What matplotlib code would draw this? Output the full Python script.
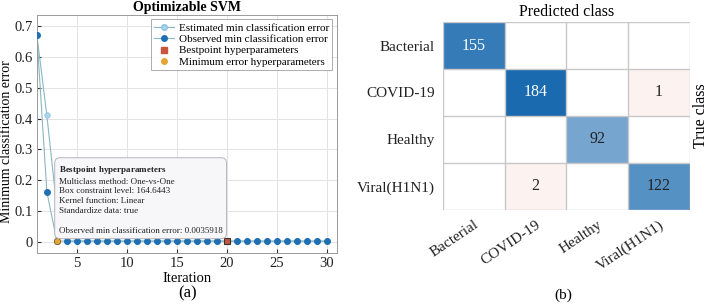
import numpy as np
import matplotlib
matplotlib.use("Agg")
import matplotlib.pyplot as plt
from matplotlib.lines import Line2D
from matplotlib.colors import to_rgb
import matplotlib.transforms as mtransforms

plt.rcParams['font.family'] = ['Liberation Serif', 'DejaVu Serif']
plt.rcParams['mathtext.fontset'] = 'custom'
plt.rcParams['mathtext.rm'] = 'Liberation Serif'
plt.rcParams['mathtext.bf'] = 'Liberation Serif:bold'

# ---- data: panel (a)
iterations = list(range(1, 31))
estimated_err = [0.67, 0.41, 0.11] + [0.0036] * 27
observed_err = [0.67, 0.163] + [0.0036] * 28
best_iter = 20
best_err = 0.0036
minerr_iter = 3
minerr_err = 0.0036

x_ticks = [5, 10, 15, 20, 25, 30]
y_ticks = [0, 0.1, 0.2, 0.3, 0.4, 0.5, 0.6, 0.7]
y_ticklabels = ["0", "0.1", "0.2", "0.3", "0.4", "0.5", "0.6", "0.7"]

# ---- data: panel (b)
classes = ["Bacterial", "COVID-19", "Healthy", "Viral(H1N1)"]
conf = np.array([
    [155, 0, 0, 0],
    [0, 184, 0, 1],
    [0, 0, 92, 0],
    [0, 2, 0, 122],
])

fig = plt.figure(figsize=(7.09, 3.06), dpi=100)

# ================= Panel (a)
ax = fig.add_axes([0.052, 0.173, 0.423, 0.778])
line_col = '#8ab7c2'
ax.plot(iterations, estimated_err, '-', color=line_col, lw=0.8, zorder=2)
ax.plot(iterations, observed_err, '-', color=line_col, lw=0.8, zorder=2)
ax.plot(iterations, estimated_err, 'o', ms=4, mfc='#a9d4ec', mec='#8cc3e0', mew=0.5, zorder=3)
ax.plot(iterations, observed_err, 'o', ms=4, mfc='#1f6fb2', mec='#1f6fb2', zorder=4)
ax.plot([best_iter], [best_err], 's', ms=5, mfc='#c8553d', mec='#333333', mew=0.8, zorder=5)
ax.plot([minerr_iter], [minerr_err], 'o', ms=4.5, mfc='#e6a532', mec='#8a6020', mew=0.5, zorder=6)

ax.set_xlim(1, 31)
ax.set_ylim(-0.035, 0.735)
ax.set_xticks(x_ticks)
ax.set_yticks(y_ticks)
ax.set_yticklabels(y_ticklabels)
ax.grid(True, color='#e3e3e3', lw=0.7)
ax.set_axisbelow(True)
for s in ax.spines.values():
    s.set_color('#9a9a9a')
    s.set_linewidth(0.7)
ax.tick_params(direction='in', length=3, labelsize=10.5, colors='#333333', labelcolor='#222222', pad=3)
ax.set_xlabel('Iteration', fontsize=10.5, labelpad=1)
ax.set_ylabel('Minimum classification error', fontsize=10, labelpad=1)
ax.yaxis.set_label_coords(-0.078, 0.47)
ax.set_title('Optimizable SVM', fontsize=10, fontweight='bold', pad=3)

handles = [
    Line2D([], [], color=line_col, lw=0.8, marker='o', ms=4, mfc='#a9d4ec', mec='#8cc3e0'),
    Line2D([], [], color=line_col, lw=0.8, marker='o', ms=4, mfc='#1f6fb2', mec='#1f6fb2'),
    Line2D([], [], ls='none', marker='s', ms=5, mfc='#c8553d', mec='#c8553d'),
    Line2D([], [], ls='none', marker='o', ms=4, mfc='#e6a532', mec='#e6a532'),
]
labels = ['Estimated min classification error', 'Observed min classification error',
          'Bestpoint hyperparameters', 'Minimum error hyperparameters']
leg = ax.legend(handles, labels, loc='upper right', fontsize=8, frameon=True, fancybox=False,
                edgecolor='#888888', borderpad=0.3, labelspacing=0.15, handlelength=1.8,
                handletextpad=0.4, borderaxespad=0.4)
leg.get_frame().set_linewidth(0.6)

# datatip box
tip_title = r'$\mathbf{Bestpoint\ hyperparameters}$'
tip_lines = ['Multiclass method: One-vs-One', 'Box constraint level: 164.6443',
             'Kernel function: Linear', 'Standardize data: true', ' ',
             'Observed min classification error: 0.0035918']
ax.text(0.073, 0.375, '\n'.join([tip_title] + tip_lines), transform=ax.transAxes,
        fontsize=6.5, va='top', ha='left', linespacing=1.3, color='#222222',
        bbox=dict(boxstyle='round,pad=0.45,rounding_size=0.6', fc='#f7f7fa', ec='#b5b5bb', lw=0.7),
        zorder=7)

fig.text(0.264, 0.04, '(a)', fontsize=12, ha='center', va='center')

# ================= Panel (b)
bx = fig.add_axes([0.625, 0.314, 0.348, 0.614])
diag_base = np.array(to_rgb('#1a6aaf'))
off_base = np.array(to_rgb('#d9531e'))
white = np.ones(3)
n = len(classes)
vmax = conf.max()
rgb = np.ones((n, n, 3))
for i in range(n):
    for j in range(n):
        v = conf[i, j]
        if v == 0:
            continue
        if i == j:
            f = (v / vmax) ** 0.75
            rgb[i, j] = white * (1 - f) + diag_base * f
        else:
            f = 0.07
            rgb[i, j] = white * (1 - f) + off_base * f
bx.imshow(rgb, aspect='auto', extent=(-0.5, n - 0.5, n - 0.5, -0.5), interpolation='nearest')
for k in range(n + 1):
    bx.axhline(k - 0.5, color='#c8c8c8', lw=1.0)
    bx.axvline(k - 0.5, color='#c8c8c8', lw=1.0)
for i in range(n):
    for j in range(n):
        v = conf[i, j]
        if v == 0:
            continue
        col = 'white' if (i == j and v / vmax > 0.75) else '#222222'
        bx.text(j, i, str(v), ha='center', va='center', fontsize=11.5, color=col)
for s in bx.spines.values():
    s.set_visible(False)
bx.set_xticks(range(n))
bx.set_yticks(range(n))
bx.set_xticklabels(classes, rotation=34, ha='right', va='top', rotation_mode='anchor')
offset = mtransforms.ScaledTranslation(10 / 100, 0, fig.dpi_scale_trans)
for lab in bx.get_xticklabels():
    lab.set_transform(lab.get_transform() + offset)
bx.set_yticklabels(classes)
bx.tick_params(length=0, labelsize=11, pad=6, labelcolor='#222222')
bx.set_title('Predicted class', fontsize=11.5, pad=4)
bx.text(1.047, 0.5, 'True class', transform=bx.transAxes, rotation=90, fontsize=11.5,
        ha='center', va='center')
fig.text(0.795, 0.035, '(b)', fontsize=11, ha='center', va='center')

fig.savefig('out.png', dpi=100)
